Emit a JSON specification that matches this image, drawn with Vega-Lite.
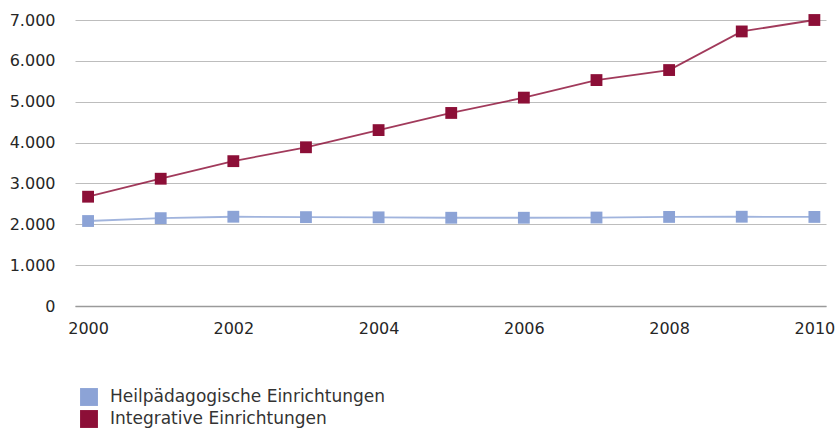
{
  "$schema": "https://vega.github.io/schema/vega-lite/v6.json",
  "autosize": "none",
  "width": 751,
  "height": 286,
  "padding": {"left": 75, "top": 20, "right": 14, "bottom": 124},
  "background": "white",
  "data": {
    "values": [
      {"jahr": 2000, "art": "Heilpädagogische Einrichtungen", "anzahl": 2080},
      {"jahr": 2001, "art": "Heilpädagogische Einrichtungen", "anzahl": 2150},
      {"jahr": 2002, "art": "Heilpädagogische Einrichtungen", "anzahl": 2185},
      {"jahr": 2003, "art": "Heilpädagogische Einrichtungen", "anzahl": 2175},
      {"jahr": 2004, "art": "Heilpädagogische Einrichtungen", "anzahl": 2170},
      {"jahr": 2005, "art": "Heilpädagogische Einrichtungen", "anzahl": 2160},
      {"jahr": 2006, "art": "Heilpädagogische Einrichtungen", "anzahl": 2160},
      {"jahr": 2007, "art": "Heilpädagogische Einrichtungen", "anzahl": 2165},
      {"jahr": 2008, "art": "Heilpädagogische Einrichtungen", "anzahl": 2180},
      {"jahr": 2009, "art": "Heilpädagogische Einrichtungen", "anzahl": 2185},
      {"jahr": 2010, "art": "Heilpädagogische Einrichtungen", "anzahl": 2180},
      {"jahr": 2000, "art": "Integrative Einrichtungen", "anzahl": 2675},
      {"jahr": 2001, "art": "Integrative Einrichtungen", "anzahl": 3115},
      {"jahr": 2002, "art": "Integrative Einrichtungen", "anzahl": 3545},
      {"jahr": 2003, "art": "Integrative Einrichtungen", "anzahl": 3885},
      {"jahr": 2004, "art": "Integrative Einrichtungen", "anzahl": 4305},
      {"jahr": 2005, "art": "Integrative Einrichtungen", "anzahl": 4725},
      {"jahr": 2006, "art": "Integrative Einrichtungen", "anzahl": 5100},
      {"jahr": 2007, "art": "Integrative Einrichtungen", "anzahl": 5530},
      {"jahr": 2008, "art": "Integrative Einrichtungen", "anzahl": 5775},
      {"jahr": 2009, "art": "Integrative Einrichtungen", "anzahl": 6720},
      {"jahr": 2010, "art": "Integrative Einrichtungen", "anzahl": 7000}
    ]
  },
  "encoding": {
    "x": {
      "field": "jahr",
      "type": "quantitative",
      "scale": {"domain": [1999.82, 2010.16], "nice": false, "zero": false},
      "axis": {
        "title": null,
        "values": [2000, 2002, 2004, 2006, 2008, 2010],
        "format": "d",
        "grid": false,
        "ticks": false,
        "domain": true,
        "domainColor": "#9a9a9a",
        "domainWidth": 1.5,
        "labelPadding": 14,
        "labelFontSize": 16,
        "labelColor": "#262626",
        "labelFont": "DejaVu Sans"
      }
    },
    "y": {
      "field": "anzahl",
      "type": "quantitative",
      "scale": {"domain": [0, 7000], "nice": false},
      "axis": {
        "title": null,
        "values": [0, 1000, 2000, 3000, 4000, 5000, 6000, 7000],
        "labelExpr": "replace(format(datum.value, ','), ',', '.')",
        "grid": true,
        "gridColor": "#bdbdbd",
        "gridWidth": 1,
        "ticks": false,
        "domain": false,
        "labelPadding": 20,
        "labelFontSize": 16,
        "labelColor": "#262626",
        "labelFont": "DejaVu Sans"
      }
    },
    "color": {
      "field": "art",
      "type": "nominal",
      "scale": {
        "domain": ["Heilpädagogische Einrichtungen", "Integrative Einrichtungen"],
        "range": ["#8ca3d6", "#8c0f37"]
      },
      "legend": {
        "title": null,
        "orient": "none",
        "legendX": 5,
        "legendY": 368,
        "direction": "vertical",
        "symbolType": "square",
        "symbolSize": 320,
        "symbolStrokeWidth": 0,
        "labelFontSize": 17,
        "labelFont": "DejaVu Sans",
        "labelColor": "#333333",
        "labelOffset": 12,
        "labelLimit": 0,
        "rowPadding": 4
      }
    }
  },
  "layer": [
    {
      "mark": {"type": "line", "strokeWidth": 1.8, "strokeOpacity": 0.82}
    },
    {
      "mark": {"type": "point", "shape": "square", "filled": true, "size": 140, "opacity": 1}
    }
  ],
  "config": {
    "view": {"stroke": null}
  }
}
